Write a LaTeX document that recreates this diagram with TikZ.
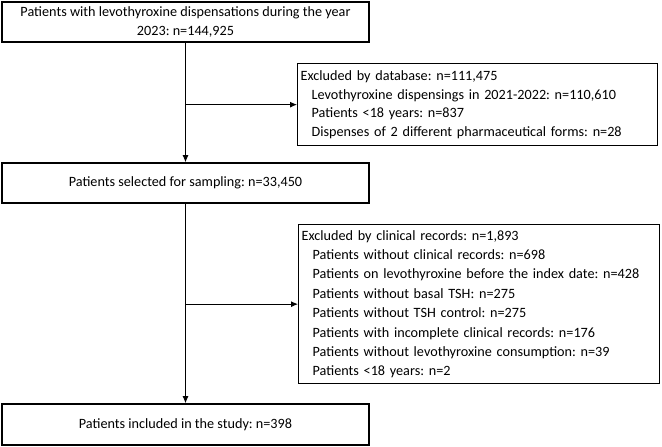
\documentclass[tikz,border=0pt]{standalone}
\usepackage{fontspec}
\setmainfont{Carlito}
\usepackage{tikz}
\usetikzlibrary{arrows.meta,positioning,calc}
\frenchspacing

\begin{document}
\begin{tikzpicture}[x=1pt,y=1pt,font=\fontsize{14.2}{18.5}\selectfont,
  mainbox/.style={draw=black,line width=1.6pt,minimum width=367pt,
                  minimum height=40pt,align=center,inner sep=2pt},
  exbox/.style={draw=black,line width=1.3pt,anchor=north west,
                align=left,inner xsep=3pt,inner ysep=1pt},
  a/.style={-{Latex[length=7pt,width=6pt]},black,line width=0.9pt}]
\useasboundingbox (0,0) rectangle (662,-447);
\node[mainbox] (disp) at (185.5,-22)
  {Patients with levothyroxine dispensations during the year\\ 2023: n=144,925};
\node[mainbox] (sel) at (185.5,-183) {Patients selected for sampling: n=33,450};
\node[mainbox,minimum height=41pt] (incl) at (185.5,-424.5)
  {Patients included in the study: n=398};
\node[exbox,text width=354pt,minimum height=82pt] (exdb) at (297,-63)
  {Excluded by database: n=111,475\\
   \hspace{11pt}Levothyroxine dispensings in 2021-2022: n=110,610\\
   \hspace{11pt}Patients <18 years: n=837\\
   \hspace{11pt}Dispenses of 2 different pharmaceutical forms: n=28};
\node[exbox,text width=355pt,minimum height=159pt,
      font=\fontsize{14.2}{19.4}\selectfont] (excr) at (298,-224)
  {Excluded by clinical records: n=1,893\\
   \hspace{11pt}Patients without clinical records: n=698\\
   \hspace{11pt}Patients on levothyroxine before the index date: n=428\\
   \hspace{11pt}Patients without basal TSH: n=275\\
   \hspace{11pt}Patients without TSH control: n=275\\
   \hspace{11pt}Patients with incomplete clinical records: n=176\\
   \hspace{11pt}Patients without levothyroxine consumption: n=39\\
   \hspace{11pt}Patients <18 years: n=2};
\draw[a] (disp.south) -- (sel.north);
\draw[a] (disp.south |- exdb.west) -- (exdb.west);
\draw[a] (sel.south) -- (incl.north);
\draw[a] (sel.south |- excr.west) -- (excr.west);
\end{tikzpicture}
\end{document}
